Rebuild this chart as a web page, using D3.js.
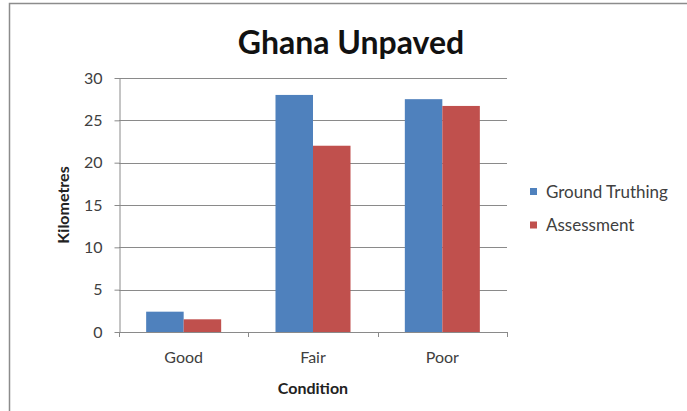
<!DOCTYPE html>
<html>
<head>
<meta charset="utf-8">
<script src="https://cdn.jsdelivr.net/npm/d3@7"></script>
<style>
  html, body { margin: 0; padding: 0; background: #fff; }
  svg { display: block; }
  text { font-family: Lato, "Open Sans", sans-serif; }
</style>
</head>
<body>
<svg id="chart" width="687" height="411"></svg>
<script>
// Kilometres of unpaved road by condition class
const categories = ["Good", "Fair", "Poor"];
const seriesNames = ["Ground Truthing", "Assessment"];
const groundTruthing = [2.4, 28.0, 27.5];
const assessment = [1.5, 22.0, 26.7];
const yTicks = [0, 5, 10, 15, 20, 25, 30];
const colors = ["#4F81BD", "#C0504D"];

const svg = d3.select("#chart");
const W = 687, H = 411;
const margin = { left: 119, right: 180, top: 78, bottom: 79 };

// chart frame (runs off the right and bottom edges)
svg.append("rect").attr("x", 9.5).attr("y", 3.5)
  .attr("width", W + 20).attr("height", H + 20)
  .attr("fill", "#fff").attr("stroke", "#8c8c8c").attr("stroke-width", 1.5);

const x0 = d3.scaleBand().domain(categories)
  .range([margin.left, W - margin.right]).paddingInner(0.42).paddingOuter(0.21);
const x1 = d3.scaleBand().domain(seriesNames).range([0, x0.bandwidth()]);
const y = d3.scaleLinear().domain([0, 30]).range([H - margin.bottom, margin.top]);

// horizontal gridlines
svg.append("g").selectAll("line").data(yTicks.filter(d => d > 0)).join("line")
  .attr("x1", margin.left).attr("x2", W - margin.right)
  .attr("y1", d => Math.round(y(d)) + 0.5).attr("y2", d => Math.round(y(d)) + 0.5)
  .attr("stroke", "#8a8a8a").attr("stroke-width", 1);

// bars
const rows = categories.map((c, i) => ({ cat: c, vals: [groundTruthing[i], assessment[i]] }));
svg.append("g").selectAll("g").data(rows).join("g")
  .attr("transform", d => `translate(${x0(d.cat)},0)`)
  .selectAll("rect").data(d => d.vals.map((v, j) => ({ v, j })))
  .join("rect")
  .attr("x", d => x1(seriesNames[d.j]))
  .attr("width", x1.bandwidth())
  .attr("y", d => y(d.v))
  .attr("height", d => y(0) - y(d.v))
  .attr("fill", d => colors[d.j]);

// y axis
const yAxis = d3.axisLeft(y).tickValues(yTicks).tickSize(5).tickPadding(12).tickSizeOuter(0);
const gy = svg.append("g").attr("transform", `translate(${margin.left + 0.5},0)`).call(yAxis);
gy.select(".domain").attr("stroke", "#8a8a8a");
gy.selectAll(".tick line").attr("stroke", "#8a8a8a");
gy.selectAll(".tick text").attr("fill", "#404040").style("font-size", "16px")
  .style("font-family", "Lato, sans-serif");

// x axis with ticks between categories
const bounds = [margin.left, ...categories.slice(1).map(c => x0(c) - x0.step() * x0.paddingInner() / 2), W - margin.right];
const gx = svg.append("g");
gx.append("line").attr("x1", margin.left).attr("x2", W - margin.right)
  .attr("y1", Math.round(y(0)) + 0.5).attr("y2", Math.round(y(0)) + 0.5)
  .attr("stroke", "#8a8a8a");
gx.selectAll("line.tk").data(bounds).join("line").attr("class", "tk")
  .attr("x1", d => Math.round(d) + 0.5).attr("x2", d => Math.round(d) + 0.5)
  .attr("y1", Math.round(y(0))).attr("y2", Math.round(y(0)) + 5)
  .attr("stroke", "#8a8a8a");
gx.selectAll("text").data(categories).join("text")
  .attr("x", d => x0(d) + x0.bandwidth() / 2)
  .attr("y", 363)
  .attr("text-anchor", "middle")
  .attr("fill", "#404040").style("font-size", "16px")
  .text(d => d);

// titles
svg.append("text").attr("x", 351).attr("y", 54).attr("text-anchor", "middle")
  .style("font-size", "32px").style("font-weight", "bold").attr("fill", "#111")
  .text("Ghana Unpaved");
svg.append("text").attr("x", (margin.left + W - margin.right) / 2).attr("y", 394)
  .attr("text-anchor", "middle").style("font-size", "16px").style("font-weight", "bold")
  .attr("fill", "#222").text("Condition");
svg.append("text").attr("transform", "translate(69,205) rotate(-90)")
  .attr("text-anchor", "middle").style("font-size", "16px").style("font-weight", "bold")
  .attr("fill", "#222").text("Kilometres");

// legend
const lg = svg.append("g").attr("transform", "translate(530,0)");
seriesNames.forEach((s, i) => {
  const cy = 191.5 + i * 33.5;
  lg.append("rect").attr("x", 0).attr("y", cy - 3.5).attr("width", 7).attr("height", 7).attr("fill", colors[i]);
  lg.append("text").attr("x", 16).attr("y", cy + 6).style("font-size", "17px")
    .attr("fill", "#404040").text(s);
});
</script>
</body>
</html>
